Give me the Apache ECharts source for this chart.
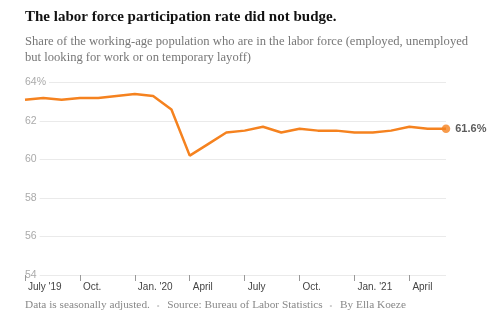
<!DOCTYPE html>
<html><head><meta charset="utf-8">
<script src="https://cdn.jsdelivr.net/npm/echarts@6/dist/echarts.min.js"></script>
<style>html,body{margin:0;padding:0;background:#fff}#c{width:500px;height:324px}</style>
</head><body><div id="c"></div>
<script>
const months = ['Jul 2019','Aug 2019','Sep 2019','Oct 2019','Nov 2019','Dec 2019','Jan 2020','Feb 2020','Mar 2020','Apr 2020','May 2020','Jun 2020','Jul 2020','Aug 2020','Sep 2020','Oct 2020','Nov 2020','Dec 2020','Jan 2021','Feb 2021','Mar 2021','Apr 2021','May 2021','Jun 2021'];
const rate = [63.1,63.2,63.1,63.2,63.2,63.3,63.4,63.3,62.6,60.2,60.8,61.4,61.5,61.7,61.4,61.6,61.5,61.5,61.4,61.4,61.5,61.7,61.6,61.6];
const tickLabels = {'Jul 2019':"July '19",'Oct 2019':'Oct.','Jan 2020':"Jan. '20",'Apr 2020':'April','Jul 2020':'July','Oct 2020':'Oct.','Jan 2021':"Jan. '21",'Apr 2021':'April'};
const yTicks = [54,56,58,60,62,64];

const chart = echarts.init(document.getElementById('c'), null, {renderer:'canvas'});
const last = rate.length - 1;
const serif = '"Liberation Serif", "DejaVu Serif", serif';
const sans = '"Liberation Sans", Arial, sans-serif';
chart.setOption({
  animation:false,
  title:[
    {text:'The labor force participation rate did not budge.', left:25, top:10, padding:0,
     textStyle:{fontFamily:serif, fontWeight:'bold', fontSize:15, color:'#121212'}},
    {text:'Share of the working-age population who are in the labor force (employed, unemployed\nbut looking for work or on temporary layoff)', left:25, top:34, padding:0,
     textStyle:{fontFamily:serif, fontWeight:'normal', fontSize:12.6, color:'#777', lineHeight:16}},
    {text:'Data is seasonally adjusted. {d|•}  Source: Bureau of Labor Statistics {d|•}  By Ella Koeze', left:25, top:300, padding:0,
     textStyle:{fontFamily:serif, fontWeight:'normal', fontSize:11.3, color:'#888',
       rich:{d:{color:'#ccc', fontSize:8, fontFamily:sans, padding:[0,2,0,4]}}}}
  ],
  grid:{left:25, right:54, top:82.5, bottom:49, containLabel:false},
  xAxis:{type:'category', data:months, boundaryGap:false, z:3,
    axisLine:{show:false},
    axisTick:{show:true, length:6, interval:(i,v)=>tickLabels[v]!==undefined, lineStyle:{color:'#999', width:1}},
    axisLabel:{show:true, interval:(i,v)=>tickLabels[v]!==undefined, formatter:v=>tickLabels[v]||'',
      align:'left', padding:[0,0,0,3], margin:7, fontFamily:sans, fontSize:10, color:'#444'},
    splitLine:{show:false}},
  yAxis:{type:'value', min:54, max:64, interval:2, z:0,
    axisLine:{show:false}, axisTick:{show:false},
    axisLabel:{inside:true, margin:0, verticalAlign:'middle', lineHeight:11, padding:[0,3,11,0],
      backgroundColor:'#fff',
      formatter:v=>v===64?v+'%':String(v), fontFamily:sans, fontSize:10.5, color:'#aaa'},
    splitLine:{lineStyle:{color:'#eaeaea', width:1}}},
  series:[
    {type:'line', data:rate, symbol:'none', lineStyle:{color:'#f5821f', width:2.5}, z:3},
    {type:'scatter', data:[[last, rate[last]]], symbol:'circle', symbolSize:8.5,
     itemStyle:{color:'#f5821f'}, z:4,
     label:{show:true, position:'right', distance:5, formatter:p=>p.value[1].toFixed(1)+'%',
       fontFamily:sans, fontWeight:'bold', fontSize:11, color:'#333'}}
  ]
});
</script></body></html>
